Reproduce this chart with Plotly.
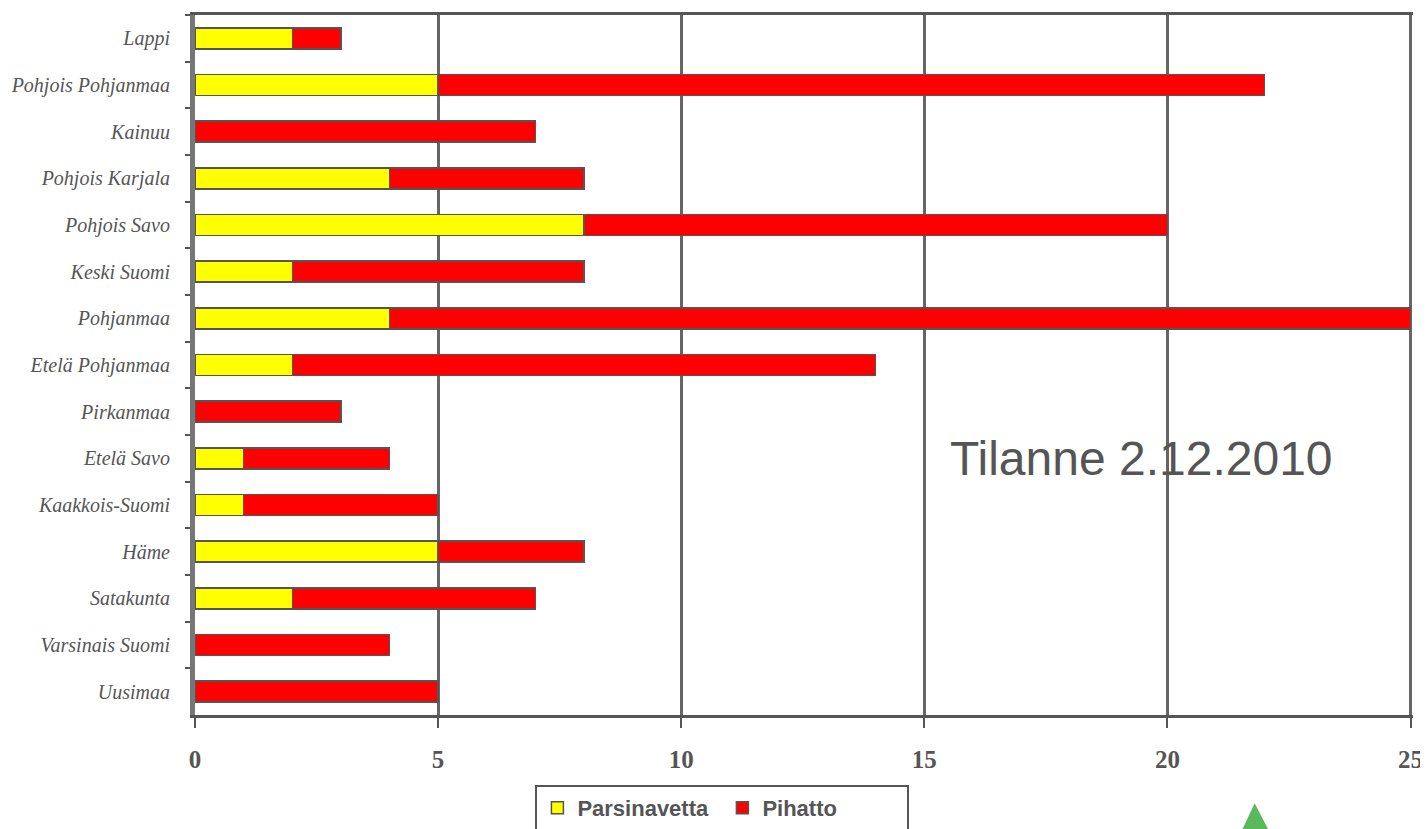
import plotly.graph_objects as go

regions = ["Lappi", "Pohjois Pohjanmaa", "Kainuu", "Pohjois Karjala", "Pohjois Savo",
           "Keski Suomi", "Pohjanmaa", "Etelä Pohjanmaa", "Pirkanmaa", "Etelä Savo",
           "Kaakkois-Suomi", "Häme", "Satakunta", "Varsinais Suomi", "Uusimaa"]
parsinavetta = [2, 5, 0, 4, 8, 2, 4, 2, 0, 1, 1, 5, 2, 0, 0]
pihatto = [1, 17, 7, 4, 12, 6, 21, 12, 3, 3, 4, 3, 5, 4, 5]
x_ticks = [0, 5, 10, 15, 20, 25]

GREY = "#555555"

fig = go.Figure()
fig.add_trace(go.Bar(y=regions, x=parsinavetta, name="Parsinavetta", orientation="h",
                     marker=dict(color="#ffff00", line=dict(color=GREY, width=1.5)), width=0.45))
fig.add_trace(go.Bar(y=regions, x=pihatto, name="Pihatto", orientation="h",
                     marker=dict(color="#ff0000", line=dict(color=GREY, width=1.5)), width=0.45))

fig.update_layout(
    barmode="stack",
    width=1420, height=821,
    margin=dict(l=187, r=15, t=7, b=114, autoexpand=False),
    paper_bgcolor="white", plot_bgcolor="white",
    showlegend=True,
    legend=dict(orientation="h", traceorder="normal", x=0.433, xanchor="center",
                y=-0.1, yanchor="top",
                bordercolor=GREY, borderwidth=2, entrywidth=140,
                font=dict(family="Liberation Sans", size=22, color=GREY, weight="bold")),
    xaxis=dict(range=[0, 25.05], tickvals=x_ticks, showgrid=True, gridcolor="#666666", gridwidth=3,
               showline=True, linecolor=GREY, linewidth=3, mirror=True,
               ticks="outside", ticklen=10, tickwidth=2, tickcolor=GREY,
               ticklabelstandoff=10, zeroline=False, automargin=False,
               tickfont=dict(family="Liberation Serif", size=25, color=GREY, weight="bold")),
    yaxis=dict(categoryorder="array", categoryarray=regions, autorange="reversed",
               showline=True, linecolor="#777777", linewidth=5,
               ticks="outside", tickson="boundaries", ticklen=5, tickwidth=2, tickcolor=GREY,
               ticklabelstandoff=16, showgrid=False, automargin=False,
               tickfont=dict(family="Liberation Serif", size=20, color=GREY, style="italic")),
    annotations=[dict(text="Tilanne 2.12.2010", xref="paper", yref="paper", x=0.7775, y=0.366,
                      xanchor="center", yanchor="middle", showarrow=False,
                      font=dict(family="Liberation Sans", size=48, color=GREY))],
    shapes=[dict(type="path", xref="paper", yref="paper",
                 path="M 0.860 -0.163 L 0.870 -0.126 L 0.881 -0.163 Z",
                 fillcolor="#5cb85c", line=dict(width=0))],
)

fig.write_html("out.html")
